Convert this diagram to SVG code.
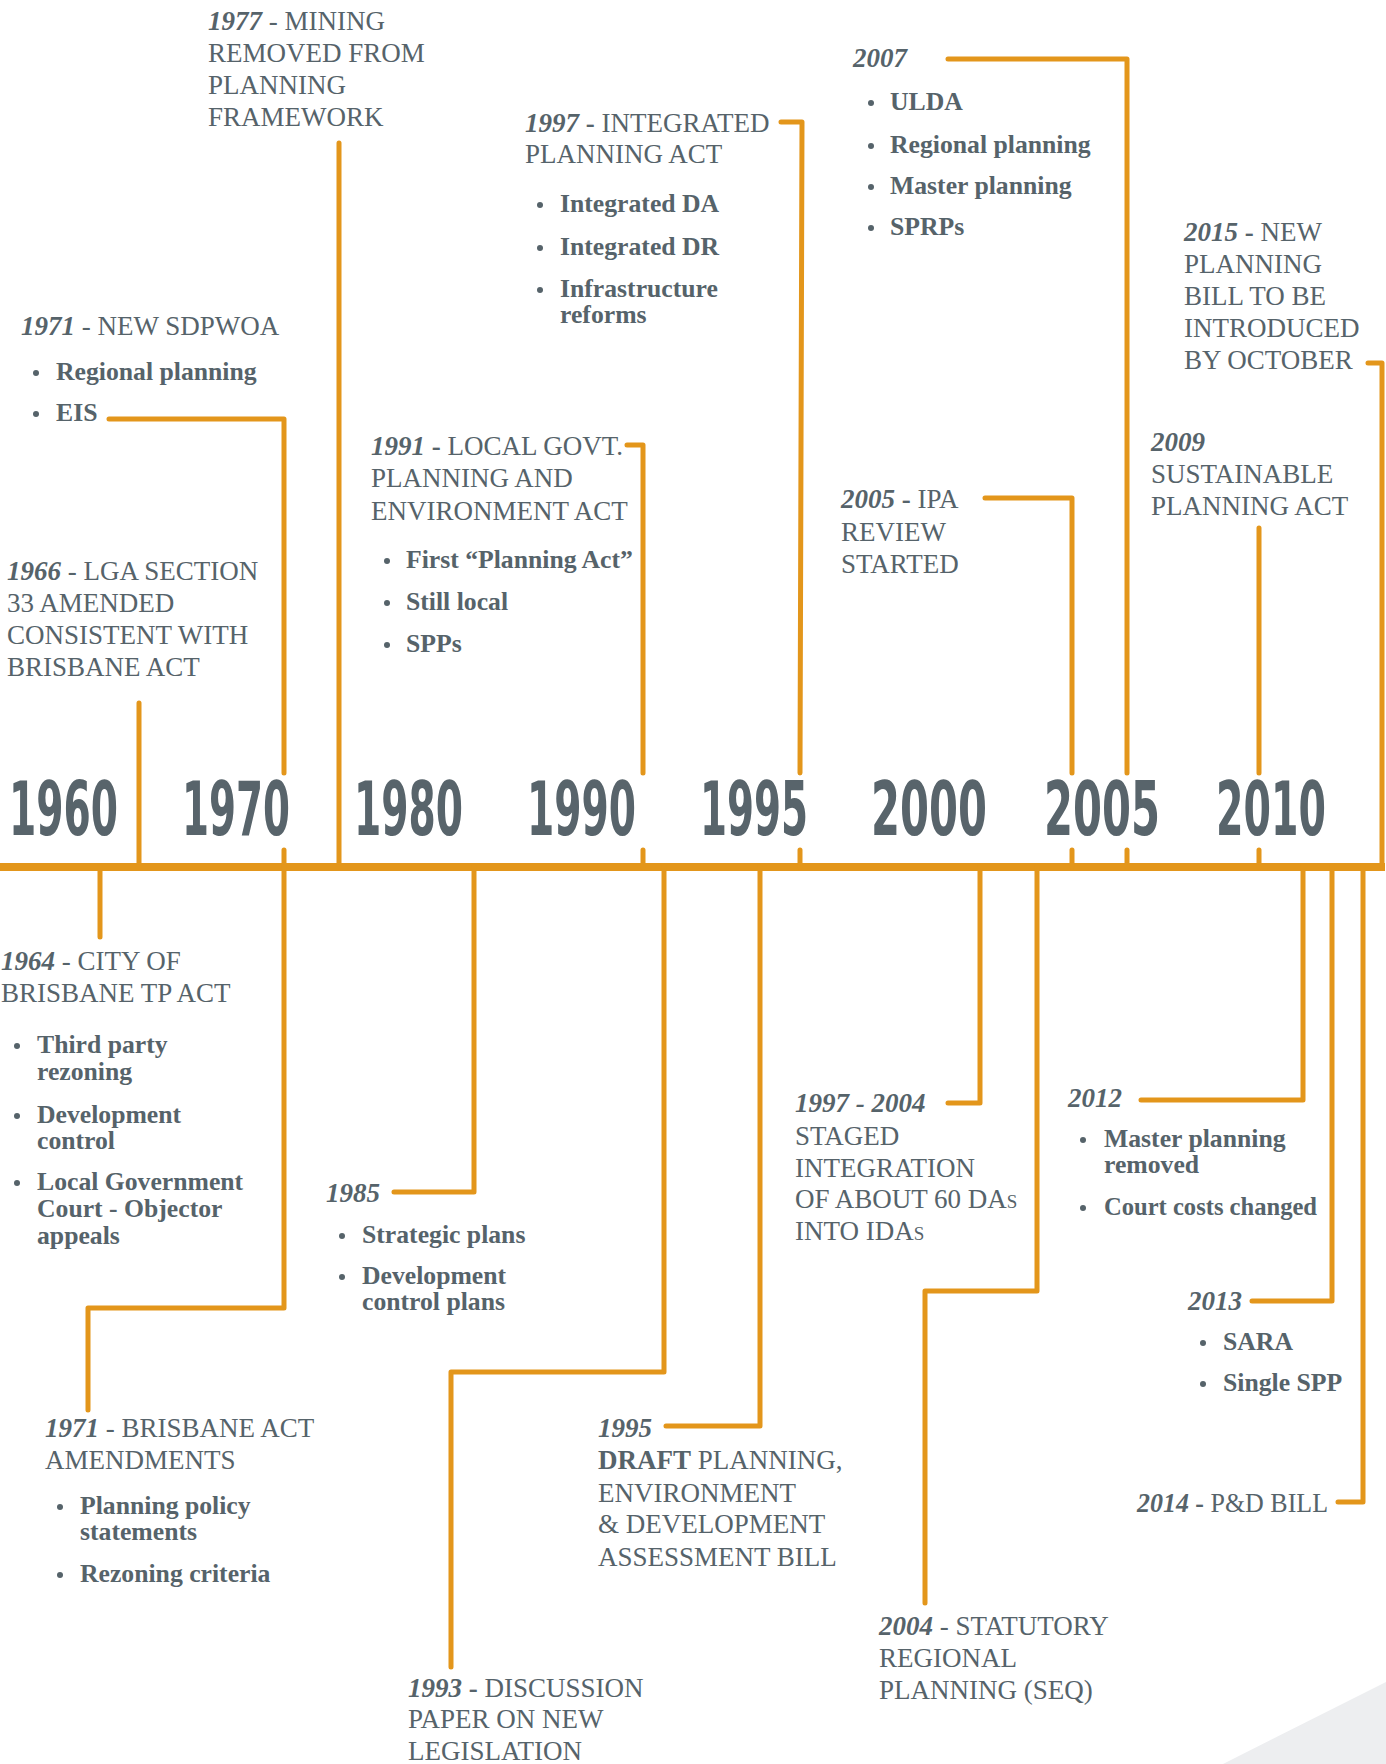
<svg xmlns="http://www.w3.org/2000/svg" width="1386" height="1764" viewBox="0 0 1386 1764">
<style>
.h{font-family:"Liberation Serif","Times New Roman",serif;font-size:27px;fill:#56636A}
.y{font-weight:bold;font-style:italic}
.k{font-weight:bold}
.b{font-family:"Liberation Serif","Times New Roman",serif;font-size:25.7px;font-weight:bold;fill:#56636A}
.ax{font-family:"Liberation Sans Narrow","DejaVu Sans Condensed","Liberation Sans",sans-serif;font-weight:bold;font-size:74px;fill:#58646B}
.c{fill:none;stroke:#E3961B;stroke-width:5;stroke-linecap:round;stroke-linejoin:round}
.m{fill:none;stroke:#E3961B;stroke-width:8}
.d{fill:#56636A}
.sc{font-variant:small-caps}
</style>
<rect width="1386" height="1764" fill="#FFFFFF"/>
<polygon points="1223,1764 1386,1682 1386,1764" fill="#EDEEF0"/>

<g id="axis">
<line class="m" x1="0" y1="867" x2="1385" y2="867"/>
<text class="ax" transform="translate(9,835) scale(0.6,1)" textLength="181.7" lengthAdjust="spacingAndGlyphs">1960</text>
<text class="ax" transform="translate(182,835) scale(0.6,1)" textLength="180" lengthAdjust="spacingAndGlyphs">1970</text>
<text class="ax" transform="translate(354,835) scale(0.6,1)" textLength="181.7" lengthAdjust="spacingAndGlyphs">1980</text>
<text class="ax" transform="translate(527,835) scale(0.6,1)" textLength="181.7" lengthAdjust="spacingAndGlyphs">1990</text>
<text class="ax" transform="translate(700,835) scale(0.6,1)" textLength="180" lengthAdjust="spacingAndGlyphs">1995</text>
<text class="ax" transform="translate(871,835) scale(0.6,1)" textLength="193.3" lengthAdjust="spacingAndGlyphs">2000</text>
<text class="ax" transform="translate(1044,835) scale(0.6,1)" textLength="193.3" lengthAdjust="spacingAndGlyphs">2005</text>
<text class="ax" transform="translate(1216,835) scale(0.6,1)" textLength="183.3" lengthAdjust="spacingAndGlyphs">2010</text>
</g>

<g id="connectors">
<path class="c" d="M139,703 V867"/>
<path class="c" d="M109,419 H284 V773 M284,850 V867"/>
<path class="c" d="M339,143 V867"/>
<path class="c" d="M627,445 H643 V773 M643,850 V867"/>
<path class="c" d="M781,122 H802 L800,773 M800,850 V867"/>
<path class="c" d="M985,498 H1072 V773 M1072,850 V867"/>
<path class="c" d="M948,59 H1127 V773 M1127,850 V867"/>
<path class="c" d="M1259,528 V773 M1259,850 V867"/>
<path class="c" d="M1368,363 H1382 V867"/>
<path class="c" d="M100,867 V937"/>
<path class="c" d="M284,867 V1308 H88 V1410"/>
<path class="c" d="M474,867 V1192 H394"/>
<path class="c" d="M664,867 V1372 H451 V1667"/>
<path class="c" d="M760,867 V1426 H666"/>
<path class="c" d="M980,867 V1103 H948"/>
<path class="c" d="M1037,867 V1291 H925 V1603"/>
<path class="c" d="M1303,867 V1100 H1141"/>
<path class="c" d="M1332,867 V1301 H1252"/>
<path class="c" d="M1363,867 V1502 H1338"/>
</g>

<g id="n1977">
<text class="h" x="208" y="30"><tspan class="y">1977</tspan> - MINING</text>
<text class="h" x="208" y="62">REMOVED FROM</text>
<text class="h" x="208" y="94">PLANNING</text>
<text class="h" x="208" y="126">FRAMEWORK</text>
</g>

<g id="n1971a">
<text class="h" x="21" y="335"><tspan class="y">1971</tspan> - NEW SDPWOA</text>
<circle class="d" cx="36" cy="373" r="3"/><text class="b" x="56" y="380">Regional planning</text>
<circle class="d" cx="36" cy="414" r="3"/><text class="b" x="56" y="421">EIS</text>
</g>

<g id="n1966">
<text class="h" x="7" y="580"><tspan class="y">1966</tspan> - LGA SECTION</text>
<text class="h" x="7" y="612">33 AMENDED</text>
<text class="h" x="7" y="644">CONSISTENT WITH</text>
<text class="h" x="7" y="676">BRISBANE ACT</text>
</g>

<g id="n1991">
<text class="h" x="371" y="455"><tspan class="y">1991</tspan><tspan class="k"> - </tspan>LOCAL GOVT.</text>
<text class="h" x="371" y="487">PLANNING AND</text>
<text class="h" x="371" y="520">ENVIRONMENT ACT</text>
<circle class="d" cx="387" cy="561" r="3"/><text class="b" x="406" y="568">First “Planning Act”</text>
<circle class="d" cx="387" cy="603" r="3"/><text class="b" x="406" y="610">Still local</text>
<circle class="d" cx="387" cy="645" r="3"/><text class="b" x="406" y="652">SPPs</text>
</g>

<g id="n1997">
<text class="h" x="525" y="132"><tspan class="y">1997</tspan><tspan class="k"> - </tspan>INTEGRATED</text>
<text class="h" x="525" y="163">PLANNING ACT</text>
<circle class="d" cx="540" cy="205" r="3"/><text class="b" x="560" y="212">Integrated DA</text>
<circle class="d" cx="540" cy="248" r="3"/><text class="b" x="560" y="255">Integrated DR</text>
<circle class="d" cx="540" cy="290" r="3"/><text class="b" x="560" y="297">Infrastructure</text>
<text class="b" x="560" y="323">reforms</text>
</g>

<g id="n2007">
<text class="h" x="853" y="67"><tspan class="y">2007</tspan></text>
<circle class="d" cx="871" cy="103" r="3"/><text class="b" x="890" y="110">ULDA</text>
<circle class="d" cx="871" cy="146" r="3"/><text class="b" x="890" y="153">Regional planning</text>
<circle class="d" cx="871" cy="187" r="3"/><text class="b" x="890" y="194">Master planning</text>
<circle class="d" cx="871" cy="228" r="3"/><text class="b" x="890" y="235">SPRPs</text>
</g>

<g id="n2015">
<text class="h" x="1184" y="241"><tspan class="y">2015</tspan><tspan class="k"> - </tspan>NEW</text>
<text class="h" x="1184" y="273">PLANNING</text>
<text class="h" x="1184" y="305">BILL TO BE</text>
<text class="h" x="1184" y="337">INTRODUCED</text>
<text class="h" x="1184" y="369">BY OCTOBER</text>
</g>

<g id="n2009">
<text class="h" x="1151" y="451"><tspan class="y">2009</tspan></text>
<text class="h" x="1151" y="483">SUSTAINABLE</text>
<text class="h" x="1151" y="515">PLANNING ACT</text>
</g>

<g id="n2005">
<text class="h" x="841" y="508"><tspan class="y">2005</tspan><tspan class="k"> - </tspan>IPA</text>
<text class="h" x="841" y="541">REVIEW</text>
<text class="h" x="841" y="573">STARTED</text>
</g>

<g id="n1964">
<text class="h" x="1" y="970"><tspan class="y">1964</tspan> - CITY OF</text>
<text class="h" x="1" y="1002">BRISBANE TP ACT</text>
<circle class="d" cx="17" cy="1046" r="3"/><text class="b" x="37" y="1053">Third party</text>
<text class="b" x="37" y="1080">rezoning</text>
<circle class="d" cx="17" cy="1116" r="3"/><text class="b" x="37" y="1123">Development</text>
<text class="b" x="37" y="1149">control</text>
<circle class="d" cx="17" cy="1183" r="3"/><text class="b" x="37" y="1190">Local Government</text>
<text class="b" x="37" y="1217">Court - Objector</text>
<text class="b" x="37" y="1244">appeals</text>
</g>

<g id="n1985">
<text class="h" x="326" y="1202"><tspan class="y">1985</tspan></text>
<circle class="d" cx="342" cy="1236" r="3"/><text class="b" x="362" y="1243">Strategic plans</text>
<circle class="d" cx="342" cy="1277" r="3"/><text class="b" x="362" y="1284">Development</text>
<text class="b" x="362" y="1310">control plans</text>
</g>

<g id="n1997-2004">
<text class="h" x="795" y="1112"><tspan class="y">1997 - 2004</tspan></text>
<text class="h" x="795" y="1145">STAGED</text>
<text class="h" x="795" y="1177">INTEGRATION</text>
<text class="h" x="795" y="1208">OF ABOUT 60 DA<tspan class="sc">s</tspan></text>
<text class="h" x="795" y="1240">INTO IDA<tspan class="sc">s</tspan></text>
</g>

<g id="n2012">
<text class="h" x="1068" y="1107"><tspan class="y">2012</tspan></text>
<circle class="d" cx="1083" cy="1140" r="3"/><text class="b" x="1104" y="1147">Master planning</text>
<text class="b" x="1104" y="1173">removed</text>
<circle class="d" cx="1083" cy="1208" r="3"/><text class="b" x="1104" y="1215" textLength="213" lengthAdjust="spacingAndGlyphs">Court costs changed</text>
</g>

<g id="n2013">
<text class="h" x="1188" y="1310"><tspan class="y">2013</tspan></text>
<circle class="d" cx="1203" cy="1343" r="3"/><text class="b" x="1223" y="1350">SARA</text>
<circle class="d" cx="1203" cy="1384" r="3"/><text class="b" x="1223" y="1391">Single SPP</text>
</g>

<g id="n2014">
<text class="h" x="1137" y="1512" textLength="191" lengthAdjust="spacingAndGlyphs"><tspan class="y">2014</tspan><tspan class="k"> - </tspan>P&amp;D BILL</text>
</g>

<g id="n1971b">
<text class="h" x="45" y="1437"><tspan class="y">1971</tspan> - BRISBANE ACT</text>
<text class="h" x="45" y="1469">AMENDMENTS</text>
<circle class="d" cx="60" cy="1507" r="3"/><text class="b" x="80" y="1514">Planning policy</text>
<text class="b" x="80" y="1540">statements</text>
<circle class="d" cx="60" cy="1575" r="3"/><text class="b" x="80" y="1582">Rezoning criteria</text>
</g>

<g id="n1993">
<text class="h" x="408" y="1697"><tspan class="y">1993</tspan><tspan class="k"> - </tspan>DISCUSSION</text>
<text class="h" x="408" y="1728">PAPER ON NEW</text>
<text class="h" x="408" y="1760">LEGISLATION</text>
</g>

<g id="n1995">
<text class="h" x="598" y="1437"><tspan class="y">1995</tspan></text>
<text class="h" x="598" y="1469"><tspan class="k">DRAFT</tspan> PLANNING,</text>
<text class="h" x="598" y="1502">ENVIRONMENT</text>
<text class="h" x="598" y="1533">&amp; DEVELOPMENT</text>
<text class="h" x="598" y="1566">ASSESSMENT BILL</text>
</g>

<g id="n2004">
<text class="h" x="879" y="1635"><tspan class="y">2004</tspan> - STATUTORY</text>
<text class="h" x="879" y="1667">REGIONAL</text>
<text class="h" x="879" y="1699">PLANNING (SEQ)</text>
</g>
</svg>
